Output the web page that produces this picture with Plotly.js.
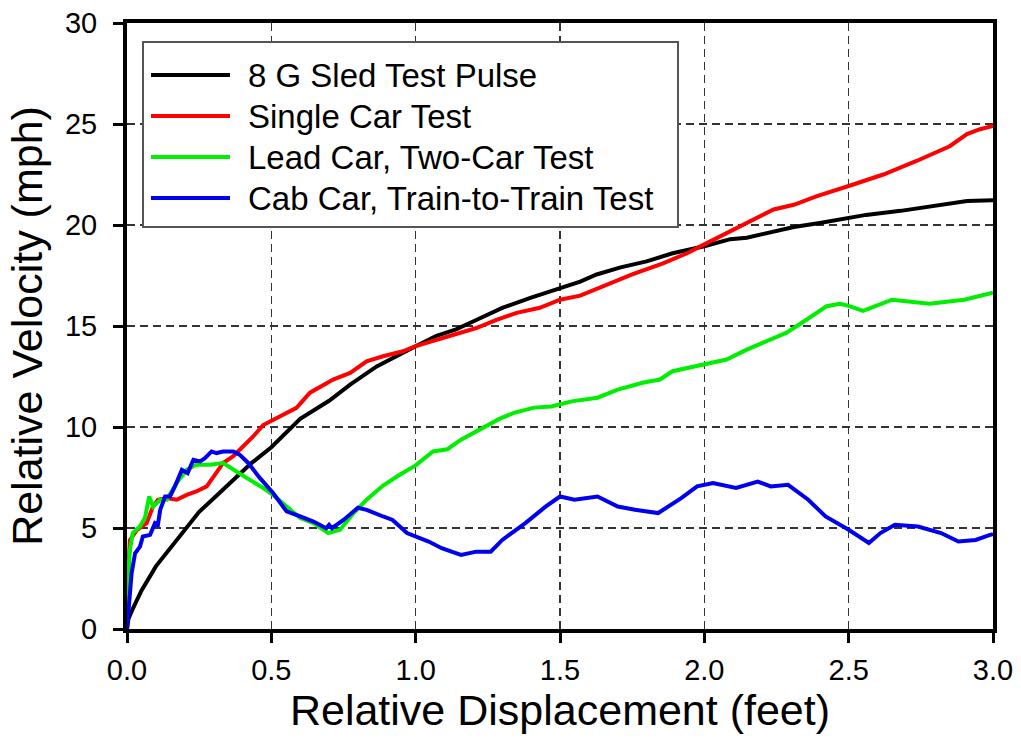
<!DOCTYPE html>
<html>
<head>
<meta charset="utf-8">
<script src="https://cdn.plot.ly/plotly-3.0.1.min.js"></script>
<style>html,body{margin:0;padding:0;background:#fff;}#chart{width:1021px;height:750px;}</style>
</head>
<body>
<div id="chart"></div>
<script>
// ---- data ----
const seriesNames = ["8 G Sled Test Pulse", "Single Car Test", "Lead Car, Two-Car Test", "Cab Car, Train-to-Train Test"];
const seriesColors = ["#000000", "#ff0000", "#00ee00", "#0000ee"];

const sledX = [0, 0.005, 0.02, 0.05, 0.1, 0.15, 0.2, 0.25, 0.31, 0.37, 0.43, 0.5, 0.6, 0.7, 0.773, 0.865, 0.956, 1.0, 1.07, 1.14, 1.21, 1.30, 1.40, 1.5, 1.57, 1.627, 1.71, 1.80, 1.89, 2.0, 2.09, 2.147, 2.216, 2.31, 2.40, 2.49, 2.56, 2.68, 2.79, 2.91, 3.0];
const sledY = [0, 0.5, 1.0, 1.9, 3.1, 4.0, 4.9, 5.8, 6.6, 7.4, 8.2, 9.0, 10.4, 11.3, 12.1, 13.0, 13.7, 14.0, 14.5, 14.83, 15.3, 15.9, 16.4, 16.9, 17.2, 17.55, 17.9, 18.2, 18.6, 18.95, 19.3, 19.37, 19.6, 19.9, 20.1, 20.3, 20.5, 20.7, 20.94, 21.19, 21.22];

const singleX = [0, 0.003, 0.01, 0.034, 0.068, 0.09, 0.107, 0.137, 0.172, 0.207, 0.24, 0.276, 0.305, 0.333, 0.368, 0.403, 0.437, 0.472, 0.506, 0.553, 0.587, 0.634, 0.714, 0.773, 0.83, 0.887, 0.956, 1.0, 1.06, 1.14, 1.21, 1.28, 1.35, 1.43, 1.5, 1.57, 1.66, 1.75, 1.857, 1.94, 2.0, 2.077, 2.16, 2.24, 2.31, 2.39, 2.5, 2.62, 2.735, 2.79, 2.85, 2.91, 2.955, 3.0];
const singleY = [0, 2.5, 4.4, 4.9, 5.24, 6.06, 6.4, 6.48, 6.4, 6.64, 6.81, 7.06, 7.64, 8.22, 8.55, 9.04, 9.53, 10.1, 10.36, 10.7, 10.95, 11.7, 12.35, 12.68, 13.25, 13.5, 13.75, 14.0, 14.25, 14.58, 14.9, 15.3, 15.65, 15.9, 16.3, 16.5, 17.05, 17.55, 18.1, 18.6, 19.04, 19.6, 20.2, 20.77, 21.0, 21.43, 21.93, 22.5, 23.17, 23.5, 23.9, 24.5, 24.74, 24.9];

const leadX = [0, 0.003, 0.01, 0.02, 0.045, 0.062, 0.077, 0.09, 0.115, 0.137, 0.172, 0.207, 0.24, 0.287, 0.333, 0.368, 0.414, 0.472, 0.506, 0.553, 0.60, 0.646, 0.697, 0.738, 0.783, 0.83, 0.887, 0.946, 1.0, 1.06, 1.11, 1.157, 1.22, 1.29, 1.34, 1.41, 1.47, 1.54, 1.63, 1.70, 1.79, 1.846, 1.89, 1.95, 2.0, 2.077, 2.147, 2.216, 2.285, 2.355, 2.424, 2.47, 2.5, 2.55, 2.65, 2.78, 2.9, 3.0];
const leadY = [0, 2.5, 3.9, 4.75, 5.07, 5.49, 6.56, 6.06, 6.4, 6.4, 7.23, 7.88, 8.13, 8.13, 8.22, 7.88, 7.48, 6.98, 6.64, 6.06, 5.49, 5.24, 4.75, 4.91, 5.7, 6.4, 7.1, 7.65, 8.1, 8.79, 8.9, 9.37, 9.87, 10.4, 10.7, 10.96, 11.02, 11.27, 11.45, 11.85, 12.2, 12.35, 12.76, 12.94, 13.09, 13.34, 13.83, 14.25, 14.67, 15.32, 15.98, 16.1, 16.0, 15.75, 16.3, 16.1, 16.3, 16.65];

const cabX = [0, 0.016, 0.028, 0.045, 0.055, 0.08, 0.097, 0.107, 0.115, 0.132, 0.149, 0.166, 0.19, 0.21, 0.23, 0.253, 0.27, 0.293, 0.31, 0.333, 0.368, 0.39, 0.42, 0.46, 0.506, 0.553, 0.6, 0.646, 0.69, 0.70, 0.71, 0.75, 0.80, 0.83, 0.887, 0.92, 0.97, 0.998, 1.045, 1.09, 1.157, 1.21, 1.26, 1.30, 1.38, 1.45, 1.50, 1.55, 1.63, 1.70, 1.76, 1.84, 1.92, 1.975, 2.03, 2.11, 2.185, 2.23, 2.29, 2.36, 2.42, 2.50, 2.57, 2.61, 2.66, 2.74, 2.82, 2.88, 2.94, 2.99, 3.0];
const cabY = [0, 2.77, 3.75, 4.08, 4.58, 4.66, 5.24, 5.16, 5.9, 6.56, 6.56, 7.06, 7.88, 7.72, 8.38, 8.3, 8.46, 8.79, 8.71, 8.79, 8.79, 8.63, 8.22, 7.48, 6.73, 5.82, 5.57, 5.32, 4.99, 5.16, 4.99, 5.4, 6.0, 5.9, 5.57, 5.4, 4.75, 4.58, 4.33, 4.0, 3.67, 3.83, 3.83, 4.41, 5.24, 6.06, 6.56, 6.4, 6.56, 6.06, 5.9, 5.74, 6.48, 7.06, 7.22, 6.98, 7.3, 7.06, 7.14, 6.4, 5.57, 4.91, 4.26, 4.75, 5.16, 5.07, 4.75, 4.33, 4.41, 4.66, 4.7];

const xTickVals = [0, 0.5, 1.0, 1.5, 2.0, 2.5, 3.0];
const xTickText = ["0.0", "0.5", "1.0", "1.5", "2.0", "2.5", "3.0"];
const yTickVals = [0, 5, 10, 15, 20, 25, 30];
const yTickText = ["0", "5", "10", "15", "20", "25", "30"];

// ---- chart ----
const FONT = '"Liberation Sans", Arial, Helvetica, sans-serif';
const xs = [sledX, singleX, leadX, cabX];
const ys = [sledY, singleY, leadY, cabY];

const traces = seriesNames.map((n, i) => ({
  type: 'scatter', mode: 'lines', name: n,
  x: xs[i], y: ys[i],
  line: {color: seriesColors[i], width: 4},
  showlegend: false, hoverinfo: 'skip'
}));

// plot area in pixels: left 127, right 993, top 23, bottom 629
const W = 1021, H = 750, L = 127, R = 28, T = 23, B = 121;
const pw = W - L - R, ph = H - T - B;
const px = v => (v - L) / pw;
const py = v => (H - B - v) / ph;

// manual legend (box, line samples, labels)
const legBox = {x0: 143, x1: 678, y0: 42, y1: 227};
const rowY = [75, 116, 157, 198];
const shapes = [{
  type: 'rect', xref: 'paper', yref: 'paper',
  x0: px(legBox.x0), x1: px(legBox.x1), y0: py(legBox.y1), y1: py(legBox.y0),
  line: {color: '#555555', width: 2}, fillcolor: '#ffffff', layer: 'above'
}];
const annotations = [];
seriesNames.forEach((n, i) => {
  shapes.push({
    type: 'line', xref: 'paper', yref: 'paper',
    x0: px(151), x1: px(230), y0: py(rowY[i]), y1: py(rowY[i]),
    line: {color: seriesColors[i], width: 4}, layer: 'above'
  });
  annotations.push({
    xref: 'paper', yref: 'paper', x: px(246), y: py(rowY[i]),
    xanchor: 'left', yanchor: 'middle', showarrow: false,
    text: n, font: {family: FONT, size: 33, color: '#000'}
  });
});

const axisCommon = {
  showline: true, linecolor: '#000', linewidth: 4, mirror: true,
  ticks: 'outside', ticklen: 10, tickwidth: 3, tickcolor: '#000',
  showgrid: true, gridcolor: '#333333', gridwidth: 1.5, griddash: '8px,5px',
  zeroline: false, automargin: false,
  tickfont: {family: FONT, size: 29, color: '#000'}
};

const layout = {
  width: W, height: H,
  margin: {l: L, r: R, t: T, b: B, pad: 0},
  paper_bgcolor: '#fff', plot_bgcolor: '#fff',
  font: {family: FONT, color: '#000'},
  xaxis: Object.assign({}, axisCommon, {
    range: [0, 3.0], tickmode: 'array', tickvals: xTickVals, ticktext: xTickText,
    ticklabelstandoff: 2,
    title: {text: 'Relative Displacement (feet)', font: {family: FONT, size: 43, color: '#000'}, standoff: 10}
  }),
  yaxis: Object.assign({}, axisCommon, {
    range: [0, 30], tickmode: 'array', tickvals: yTickVals, ticktext: yTickText,
    ticklabelstandoff: 10,
    title: {text: 'Relative Velocity (mph)', font: {family: FONT, size: 43, color: '#000'}, standoff: 10}
  }),
  shapes: shapes,
  annotations: annotations,
  showlegend: false
};

Plotly.newPlot('chart', traces, layout, {staticPlot: true, displayModeBar: false});
</script>
</body>
</html>
